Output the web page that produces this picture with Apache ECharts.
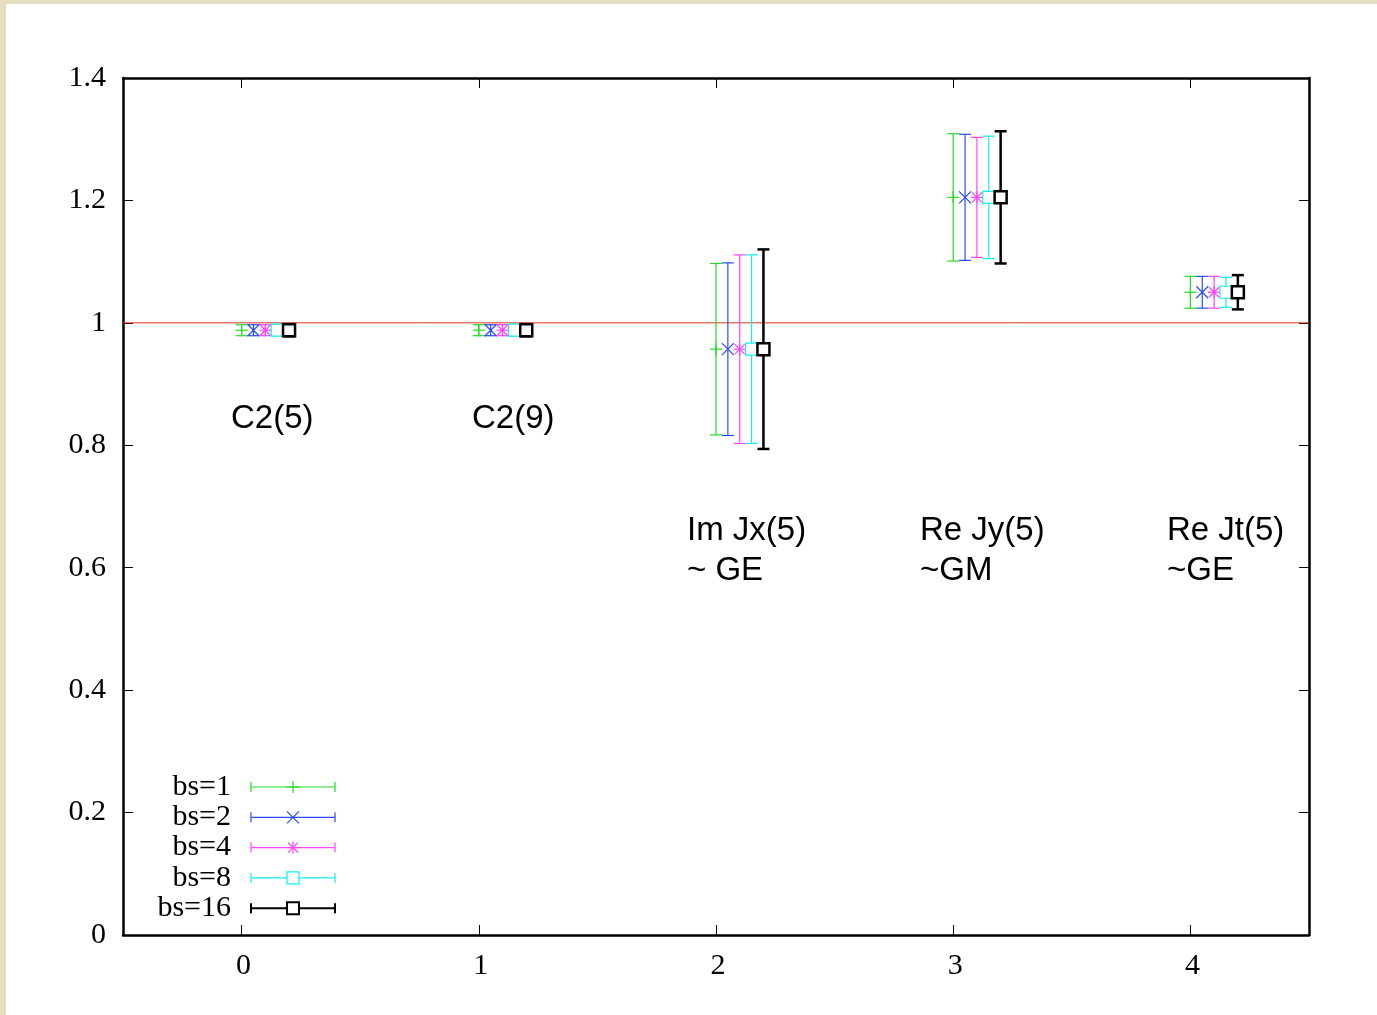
<!DOCTYPE html>
<html>
<head>
<meta charset="utf-8">
<script src="https://cdn.jsdelivr.net/npm/echarts@6/dist/echarts.min.js"></script>
<style>
  html, body { margin: 0; padding: 0; width: 1377px; height: 1015px; background: #e6dcbf; overflow: hidden; }
  #chart { position: absolute; left: 6px; top: 4px; width: 1371px; height: 1011px; background: #ffffff; }
</style>
</head>
<body>
<div id="chart"></div>
<script>
// Observable index (x position of each group)
const groups = [0, 1, 2, 3, 4];
const groupNames = ['C2(5)', 'C2(9)', 'Im Jx(5)\n~ GE', 'Re Jy(5)\n~GM', 'Re Jt(5)\n~GE'];
const xTicks = [0, 1, 2, 3, 4];
const refLevel = 1;

// Central values and errors per block size
const bs1Val  = [0.988, 0.988, 0.957, 1.205, 1.050];
const bs1Err  = [0.009, 0.009, 0.140, 0.104, 0.026];
const bs2Val  = [0.988, 0.988, 0.957, 1.205, 1.050];
const bs2Err  = [0.009, 0.009, 0.141, 0.103, 0.026];
const bs4Val  = [0.988, 0.988, 0.957, 1.205, 1.050];
const bs4Err  = [0.009, 0.009, 0.154, 0.098, 0.026];
const bs8Val  = [0.988, 0.988, 0.957, 1.205, 1.050];
const bs8Err  = [0.009, 0.009, 0.154, 0.100, 0.0245];
const bs16Val = [0.988, 0.988, 0.957, 1.205, 1.050];
const bs16Err = [0.010, 0.010, 0.163, 0.108, 0.028];

const seriesDefs = [
  { name: 'bs=1',  vals: bs1Val,  errs: bs1Err,  shift: 0.00, color: '#22dd22', width: 1.2, mark: 'plus' },
  { name: 'bs=2',  vals: bs2Val,  errs: bs2Err,  shift: 0.05, color: '#2a4cff', width: 1.2, mark: 'cross' },
  { name: 'bs=4',  vals: bs4Val,  errs: bs4Err,  shift: 0.10, color: '#ff44ff', width: 1.2, mark: 'star' },
  { name: 'bs=8',  vals: bs8Val,  errs: bs8Err,  shift: 0.15, color: '#11eeee', width: 1.2, mark: 'square' },
  { name: 'bs=16', vals: bs16Val, errs: bs16Err, shift: 0.20, color: '#000000', width: 2.5, mark: 'square' }
];

const OX = 6, OY = 4; // chart container offset within the page

function markerShapes(kind, cx, cy, style) {
  const out = [];
  const line = (x1, y1, x2, y2) => out.push({ type: 'line', shape: { x1, y1, x2, y2 }, style });
  if (kind === 'plus' || kind === 'star') {
    line(cx - 6, cy, cx + 6, cy);
    line(cx, cy - 6, cx, cy + 6);
  }
  if (kind === 'cross' || kind === 'star') {
    const h = kind === 'cross' ? 6 : 5;
    line(cx - h, cy - h, cx + h, cy + h);
    line(cx - h, cy + h, cx + h, cy - h);
  }
  if (kind === 'square') {
    out.push({ type: 'rect', shape: { x: cx - 6, y: cy - 6, width: 12, height: 12 },
      style: Object.assign({}, style, { fill: '#ffffff' }) });
  }
  return out;
}

function makeRender(def) {
  return function (params, api) {
    const x = api.value(0), y = api.value(1), e = api.value(2);
    const c = api.coord([x, y]);
    const t = api.coord([x, y + e]);
    const b = api.coord([x, y - e]);
    const style = { stroke: def.color, lineWidth: def.width, fill: 'none' };
    const cap = 6;
    const children = [
      { type: 'line', shape: { x1: c[0], y1: t[1], x2: c[0], y2: b[1] }, style },
      { type: 'line', shape: { x1: c[0] - cap, y1: t[1], x2: c[0] + cap, y2: t[1] }, style },
      { type: 'line', shape: { x1: c[0] - cap, y1: b[1], x2: c[0] + cap, y2: b[1] }, style }
    ].concat(markerShapes(def.mark, c[0], c[1], style));
    return { type: 'group', children };
  };
}

const series = [{
  type: 'line',
  data: [[-0.5, refLevel], [4.5, refLevel]],
  symbol: 'none',
  lineStyle: { color: '#d9341a', width: 1 },
  silent: true,
  z: 1
}];
seriesDefs.forEach((d, k) => {
  series.push({
    type: 'custom',
    name: d.name,
    renderItem: makeRender(d),
    data: groups.map((g, i) => [g + d.shift, d.vals[i], d.errs[i]]),
    encode: { x: 0, y: 1 },
    silent: true,
    z: 3 + k
  });
});

// Legend drawn as error-bar samples
const legendGraphics = [];
seriesDefs.forEach((d, k) => {
  const yc = 787 + k * 30.3 - OY;
  const style = { stroke: d.color, lineWidth: d.width === 1.2 ? 1.2 : 2, fill: 'none' };
  legendGraphics.push({
    type: 'text', x: 231 - OX, y: yc,
    style: { text: d.name, font: '30px "Liberation Serif"', fill: '#000', align: 'right', verticalAlign: 'middle' }
  });
  const x1 = 251 - OX, x2 = 335 - OX, xm = 293 - OX;
  legendGraphics.push({ type: 'line', shape: { x1, y1: yc, x2, y2: yc }, style });
  legendGraphics.push({ type: 'line', shape: { x1, y1: yc - 5, x2: x1, y2: yc + 5 }, style });
  legendGraphics.push({ type: 'line', shape: { x1: x2, y1: yc - 5, x2, y2: yc + 5 }, style });
  markerShapes(d.mark, xm, yc, style).forEach(s => legendGraphics.push(s));
});

// Observable names placed under each group (left edge, top of first line)
const namePos = [[231, 399], [472, 399], [687, 511], [920, 511], [1167, 511]];
const nameGraphics = groupNames.map((txt, i) => ({
  type: 'text', x: namePos[i][0] - OX, y: namePos[i][1] - OY,
  style: { text: txt, font: '33px "Liberation Sans"', fill: '#000', align: 'left', verticalAlign: 'top', lineHeight: 40 }
}));

const axisLineStyle = { color: '#000', width: 2.5 };
const tickStyle = { color: '#000', width: 1 };
const labelFont = { fontFamily: 'Liberation Serif', fontSize: 30, color: '#000' };

const option = {
  animation: false,
  backgroundColor: 'transparent',
  grid: { left: 117, right: 68, top: 74, bottom: 80 },
  xAxis: [
    { type: 'value', min: -0.5, max: 4.5, position: 'bottom',
      axisLine: { show: true, onZero: false, lineStyle: axisLineStyle },
      axisTick: { show: true, inside: true, length: 10, customValues: xTicks, lineStyle: tickStyle },
      axisLabel: Object.assign({ customValues: xTicks, margin: 16, padding: [0, 0, 0, 4] }, labelFont),
      splitLine: { show: false } },
    { type: 'value', min: -0.5, max: 4.5, position: 'top',
      axisLine: { show: true, onZero: false, lineStyle: axisLineStyle },
      axisTick: { show: true, inside: true, length: 10, customValues: xTicks, lineStyle: tickStyle },
      axisLabel: { show: false },
      splitLine: { show: false } }
  ],
  yAxis: [
    { type: 'value', min: 0, max: 1.4, interval: 0.2, position: 'left',
      axisLine: { show: true, onZero: false, lineStyle: axisLineStyle },
      axisTick: { show: true, inside: true, length: 10, lineStyle: tickStyle },
      axisLabel: Object.assign({ margin: 17 }, labelFont),
      splitLine: { show: false } },
    { type: 'value', min: 0, max: 1.4, interval: 0.2, position: 'right',
      axisLine: { show: true, onZero: false, lineStyle: axisLineStyle },
      axisTick: { show: true, inside: true, length: 10, lineStyle: tickStyle },
      axisLabel: { show: false },
      splitLine: { show: false } }
  ],
  series,
  graphic: nameGraphics.concat(legendGraphics)
};

const chart = echarts.init(document.getElementById('chart'), null, { renderer: 'canvas' });
chart.setOption(option);
</script>
</body>
</html>
